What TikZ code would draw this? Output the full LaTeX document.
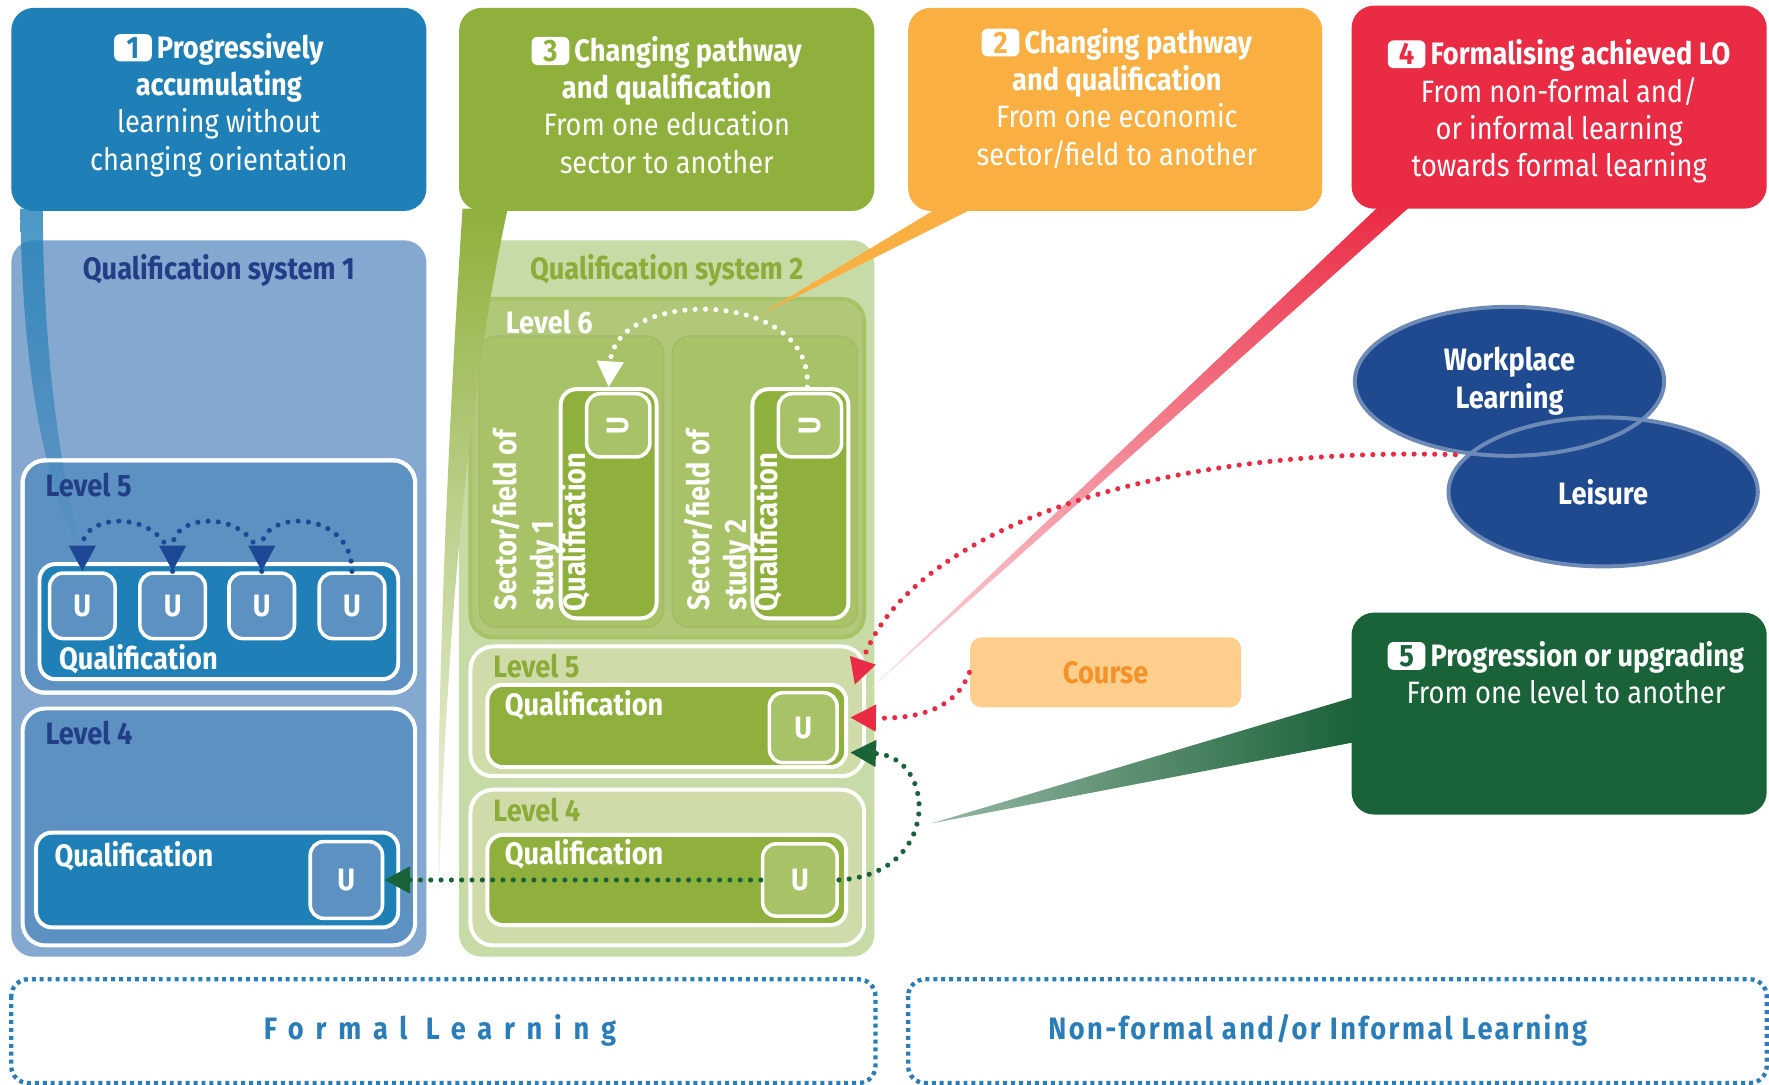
\documentclass[tikz,border=0pt]{standalone}
\usepackage{fontspec}
\setmainfont{Fira Sans}[FakeStretch=0.88]
\usepackage{tikz}
\usetikzlibrary{calc, arrows.meta, shapes.geometric, positioning}
\usepackage{tkz-euclide}
\definecolor{qblue}{RGB}{31,128,184}
\definecolor{sysblue}{RGB}{132,168,207}
\definecolor{lvlblue}{RGB}{92,145,194}
\definecolor{navytext}{RGB}{33,62,135}
\definecolor{arcblue}{RGB}{30,72,150}
\definecolor{qgreen}{RGB}{143,176,60}
\definecolor{sysgreen}{RGB}{198,219,165}
\definecolor{lvsix}{RGB}{176,200,120}
\definecolor{secgreen}{RGB}{168,194,104}
\definecolor{lvgreen}{RGB}{207,220,170}
\definecolor{olivetext}{RGB}{140,172,58}
\definecolor{orangebox}{RGB}{249,175,66}
\definecolor{coursefill}{RGB}{253,206,140}
\definecolor{coursetext}{RGB}{243,146,40}
\definecolor{redbox}{RGB}{234,43,68}
\definecolor{darkgreen}{RGB}{26,98,56}
\definecolor{ellnavy}{RGB}{31,74,143}
\definecolor{dashblue}{RGB}{42,125,185}
\newcommand\numbadge[2]{\tikz[baseline=(nb.base)]\node[fill=white,rounded corners=1.5pt,inner sep=0.8pt,minimum width=9.5pt,text=#1,font=\bfseries] (nb) {#2};\,}

\begin{document}
\begin{tikzpicture}[x=0.01cm, y=-0.01cm, >={Triangle[length=6.5pt,width=6.5pt]},
  every node/.style={font=\fontsize{7.8}{9.4}\selectfont},
  hd/.style={font=\fontsize{7.8}{9.4}\selectfont\bfseries},
  topbox/.style={rounded corners=0.2cm},
  lvlbox/.style={draw=white, line width=1pt, rounded corners=0.2cm},
  qbox/.style={draw=white, line width=1pt, rounded corners=0.14cm},
  ubox/.style={draw=white, line width=0.9pt, rounded corners=0.12cm, minimum size=0.58cm, inner sep=0pt, text=white, hd},
  lbl/.style={anchor=west, text=white, hd},
  dots/.style={line width=1.3pt, line cap=round, dash pattern=on 0pt off 2.6pt},
  bdash/.style={draw=dashblue, line width=1.1pt, dash pattern=on 1pt off 1pt, rounded corners=0.15cm}]
\useasboundingbox (0,0) rectangle (1568,961);
\tkzDefPoints{72/492/A, 389/792/B, 672/280/C, 770/612/D, 825/730/E, 1290/403/F}

\fill[qblue, topbox] (10,7) rectangle (378,187);
\node[align=center, text=white] (t1) at (194,93) {\numbadge{qblue}{1}\textbf{Progressively}\\\textbf{accumulating}\\learning without\\changing orientation};
\fill[qgreen, topbox] (407,7) rectangle (775,187);
\node[align=center, text=white] (t3) at (591,93) {\numbadge{qgreen}{3}\textbf{Changing pathway}\\\textbf{and qualification}\\From one education\\sector to another};
\fill[orangebox, topbox] (805,7) rectangle (1172,187);
\node[align=center, text=white] (t2) at (990,87) {\numbadge{orangebox}{2}\textbf{Changing pathway}\\\textbf{and qualification}\\From one economic\\sector/field to another};
\fill[redbox, topbox] (1198,5) rectangle (1566,185);
\node[align=center, text=white] (t4) at (1382,99) {\numbadge{redbox}{4}\textbf{Formalising achieved LO}\\From non-formal and/\\or informal learning\\towards formal learning};

\fill[sysblue, topbox] (10,213) rectangle (378,848);
\node[hd, text=navytext] (qs1) at (194,240) {Qualification system 1};
\filldraw[fill=lvlblue, lvlbox] (20,408) rectangle (368,614);
\shade[top color=qblue, bottom color=lvlblue, fill opacity=0.8] (18,185) .. controls (20,350) and (45,440) .. (A) .. controls (55,420) and (38,320) .. (38,185) -- cycle;
\draw[white, line width=1pt, rounded corners=0.2cm] (20,408) rectangle (368,614);
\node[hd, text=navytext, anchor=west] (l51) at (28,430) {Level 5};
\filldraw[fill=qblue, qbox] (35,500) rectangle (353,602);
\foreach \x/\n in {73/1,153/2,232/3,312/4}
  \node[ubox, fill=lvlblue] (u\n) at (\x,537) {U};
\node[lbl] (q51) at (40,584) {Qualification};
\filldraw[fill=lvlblue, lvlbox] (20,628) rectangle (368,838);
\node[hd, text=navytext, anchor=west] (l41) at (28,650) {Level 4};
\filldraw[fill=qblue, qbox] (32,738) rectangle (353,822);
\node[lbl] (q41) at (36,759) {Qualification};
\node[ubox, fill=lvlblue, minimum width=0.64cm, minimum height=0.68cm] (bu) at (307,780) {U};

\fill[sysgreen, topbox] (407,213) rectangle (775,848);
\node[hd, text=olivetext] (qs2) at (591,240) {Qualification system 2};
\filldraw[fill=lvsix, draw=secgreen, line width=1pt, rounded corners=0.2cm] (417,265) rectangle (766,565);
\node[lbl] (l6) at (436,285) {Level 6};
\filldraw[fill=secgreen, draw=lvsix!80!black!20!secgreen, rounded corners=0.15cm] (425,298) rectangle (588,556);
\filldraw[fill=secgreen, draw=lvsix!80!black!20!secgreen, rounded corners=0.15cm] (596,298) rectangle (760,556);
\node[hd, text=white, rotate=90, anchor=north west, align=left, inner sep=1pt] (sf1) at (431,545) {Sector/field of\\study 1};
\node[hd, text=white, rotate=90, anchor=north west, align=left, inner sep=1pt] (sf2) at (602,545) {Sector/field of\\study 2};
\node[qbox, fill=qgreen, minimum width=0.85cm, minimum height=2.03cm] (qv1) at (539.5,446.5) {};
\node[qbox, fill=qgreen, minimum width=0.85cm, minimum height=2.03cm] (qv2) at (709.5,446.5) {};
\node[ubox, fill=secgreen, rotate=90, minimum size=0.56cm] (su1) at (548,377) {U};
\node[ubox, fill=secgreen, rotate=90, minimum size=0.56cm] (su2) at (718,377) {U};
\node[lbl, rotate=90, inner sep=1pt] (qt1) at (510,546) {Qualification};
\node[lbl, rotate=90, inner sep=1pt] (qt2) at (680,546) {Qualification};

\filldraw[fill=lvgreen, lvlbox] (417,573) rectangle (766,688);
\node[hd, text=olivetext, anchor=west] (l5g) at (425,590) {Level 5};
\filldraw[fill=qgreen, qbox] (432,607) rectangle (750,680);
\node[lbl] (q5g) at (435,625) {Qualification};
\node[ubox, fill=secgreen, minimum width=0.6cm, minimum height=0.62cm] (gu5) at (712,645) {U};
\filldraw[fill=lvgreen, lvlbox] (417,700) rectangle (766,838);
\node[hd, text=olivetext, anchor=west] (l4g) at (425,718) {Level 4};
\filldraw[fill=qgreen, qbox] (432,740) rectangle (750,820);
\node[lbl] (q4g) at (435,757) {Qualification};
\node[ubox, fill=secgreen, minimum width=0.66cm, minimum height=0.64cm] (gu4) at (709,780) {U};

\shade[top color=qgreen, bottom color=qgreen!10] (410,185) .. controls (396,400) and (386,650) .. (B) .. controls (394,620) and (408,380) .. (450,185) -- cycle;
\fill[orangebox] (830,185) -- (862,185) -- (C) -- cycle;
\shade[top color=redbox, bottom color=redbox!15] (1222,183) -- (1250,183) -- (D) -- cycle;

\fill[darkgreen, topbox] (1198,543) rectangle (1566,722);
\node[align=center, text=white] (t5) at (1388,596) {\numbadge{darkgreen}{5}\textbf{Progression or upgrading}\\From one level to another};
\shade[left color=darkgreen!45, right color=darkgreen] (1200,618) -- (1200,658) -- (E) -- cycle;

\node[ellipse, fill=ellnavy, minimum width=2.74cm, minimum height=1.32cm] (wpl) at (1338,338) {};
\node[ellipse, fill=ellnavy, draw=white!35!ellnavy, line width=1pt, minimum width=2.74cm, minimum height=1.32cm, text=white, hd] (leis) at (1421,436) {Leisure};
\node[ellipse, draw=white!35!ellnavy, line width=1pt, minimum width=2.74cm, minimum height=1.32cm, text=white, hd, align=center] (wplt) at (1338,338) {Workplace\\Learning};
\node[fill=coursefill, rounded corners=0.1cm, minimum width=2.4cm, minimum height=0.62cm, text=coursetext, hd] (crs) at (980,596) {Course};

\foreach \a/\b in {4/3,3/2,2/1}
  \draw[dots, arcblue, ->] (u\a.north) .. controls +(0,-55) and +(0,-55) .. (u\b.north);
\draw[dots, white, ->] ($(qv2.north)+(6,0)$) .. controls (722,255) and (545,255) .. (qv1.north);
\draw[dots, redbox, ->] (F) .. controls (1000,395) and (800,480) .. ($(gu5.east)+(14,-38)$);
\draw[dots, redbox, ->] (crs.west) .. controls (845,635) and (800,637) .. ($(gu5.east)+(10,-9)$);
\draw[dots, darkgreen, ->] (gu4.east) .. controls (835,775) and (830,670) .. ($(gu5.east)+(10,22)$);
\draw[dots, darkgreen, ->] (gu4.west) -- (bu.east);

\draw[bdash] (10,868) rectangle (776,960);
\node[hd, text=dashblue, font=\fontsize{7.8}{9.4}\selectfont\bfseries\addfontfeature{LetterSpace=38}] (fl) at (390,913) {Formal Learning};
\draw[bdash] (805,868) rectangle (1566,960);
\node[hd, text=dashblue, font=\fontsize{7.8}{9.4}\selectfont\bfseries\addfontfeature{LetterSpace=8}] (nfl) at (1168,913) {Non-formal and/or Informal Learning};
\end{tikzpicture}
\end{document}
